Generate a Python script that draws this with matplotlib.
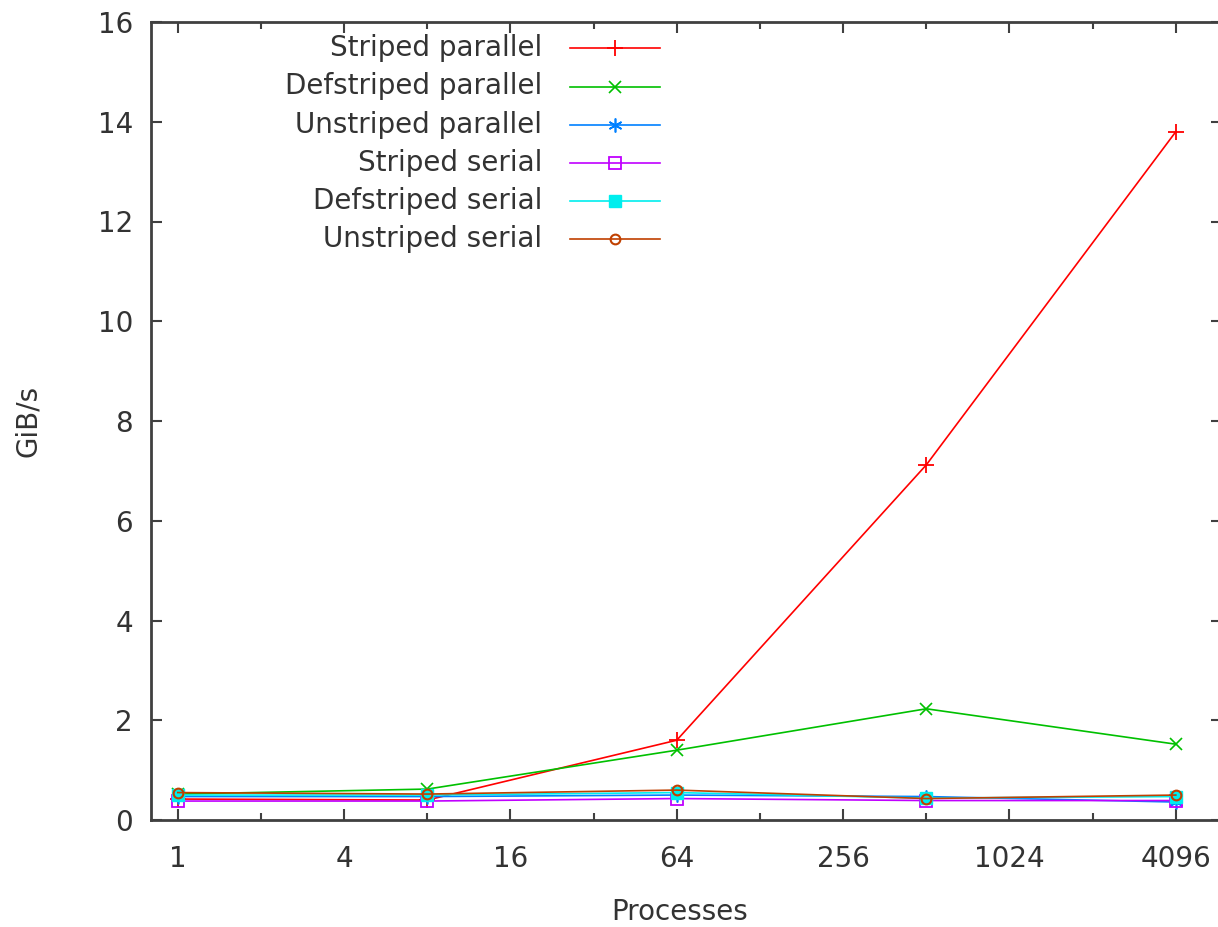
import matplotlib
matplotlib.use("Agg")
import matplotlib.pyplot as plt
from matplotlib.lines import Line2D
from matplotlib.ticker import FixedLocator, NullFormatter

plt.rcParams['font.family'] = ['DejaVu Sans']

# ---- data ----
processes = [1, 8, 64, 512, 4096]
striped_parallel = [0.42, 0.40, 1.60, 7.12, 13.80]
defstriped_parallel = [0.52, 0.62, 1.40, 2.23, 1.52]
unstriped_parallel = [0.47, 0.47, 0.50, 0.47, 0.36]
striped_serial = [0.38, 0.38, 0.43, 0.39, 0.39]
defstriped_serial = [0.50, 0.50, 0.55, 0.44, 0.47]
unstriped_serial = [0.55, 0.52, 0.60, 0.43, 0.50]

series_names = ["Striped parallel", "Defstriped parallel", "Unstriped parallel",
                "Striped serial", "Defstriped serial", "Unstriped serial"]
series_values = [striped_parallel, defstriped_parallel, unstriped_parallel,
                 striped_serial, defstriped_serial, unstriped_serial]
x_ticks = [1, 4, 16, 64, 256, 1024, 4096]
x_minor = [2, 8, 32, 128, 512, 2048]
y_ticks = [0, 2, 4, 6, 8, 10, 12, 14, 16]

colors = ['#ff0000', '#00c000', '#0080ff', '#c000ff', '#00eeee', '#c04000']
styles = [
    dict(marker='+', ms=11, mew=1.3, mfc='none'),
    dict(marker='x', ms=9, mew=1.2, mfc='none'),
    dict(marker=(6, 2, 0), ms=10, mew=1.2, mfc='none'),
    dict(marker='s', ms=9, mew=1.3, mfc='none'),
    dict(marker='s', ms=9, mew=1.0),
    dict(marker='o', ms=7, mew=1.5, mfc='none'),
]

W, H = 1218, 927
fig = plt.figure(figsize=(W / 100, H / 100), dpi=100)
ax_left, ax_w = 151, 1070.6
ax_top, ax_h = 22, 798
ax = fig.add_axes([ax_left / W, (H - ax_top - ax_h) / H, ax_w / W, ax_h / H])

for name, vals, c, st in zip(series_names, series_values, colors, styles):
    ax.plot(processes, vals, color=c, lw=1.2, mec=c, label=name, **st)

ax.set_xscale('log', base=2)
ax.set_xlim(0.8, 6000)
ax.set_ylim(0, 16)
ax.xaxis.set_major_locator(FixedLocator(x_ticks))
ax.set_xticklabels([str(v) for v in x_ticks])
ax.xaxis.set_minor_locator(FixedLocator(x_minor))
ax.xaxis.set_minor_formatter(NullFormatter())
ax.set_yticks(y_ticks)
ax.set_yticklabels([str(v) for v in y_ticks])

txtc = '#333333'
fs = 20
ax.tick_params(axis='both', which='major', direction='in', length=8, width=1.5,
               color='#404040', labelsize=fs, labelcolor=txtc,
               top=True, right=True)
ax.tick_params(axis='x', which='major', pad=18)
ax.tick_params(axis='y', which='major', pad=13)
ax.tick_params(axis='x', which='minor', direction='in', length=5, width=1.5,
               color='#404040', top=True)
for s in ax.spines.values():
    s.set_color('#404040')
    s.set_linewidth(2)

ax.set_xlabel('Processes', fontsize=fs, color=txtc, labelpad=18, x=0.494)
ax.set_ylabel('GiB/s', fontsize=fs, color=txtc, labelpad=40)

# ---- manual legend (gnuplot style: text right-aligned, sample on the right) ----
def fx(px):
    return (px - ax_left) / ax_w

def fy(py):
    return (ax_top + ax_h - py) / ax_h

row0, dy = 48.3, 38.2
for i, (name, c, st) in enumerate(zip(series_names, colors, styles)):
    y = fy(row0 + i * dy)
    ax.text(fx(542), y, name, transform=ax.transAxes, ha='right', va='center',
            fontsize=fs, color=txtc)
    ax.add_line(Line2D([fx(570), fx(660)], [y, y], transform=ax.transAxes,
                       color=c, lw=1.2))
    ax.add_line(Line2D([fx(615)], [y], transform=ax.transAxes, color=c,
                       mec=c, linestyle='none', **st))

fig.savefig('out.png', dpi=100)
